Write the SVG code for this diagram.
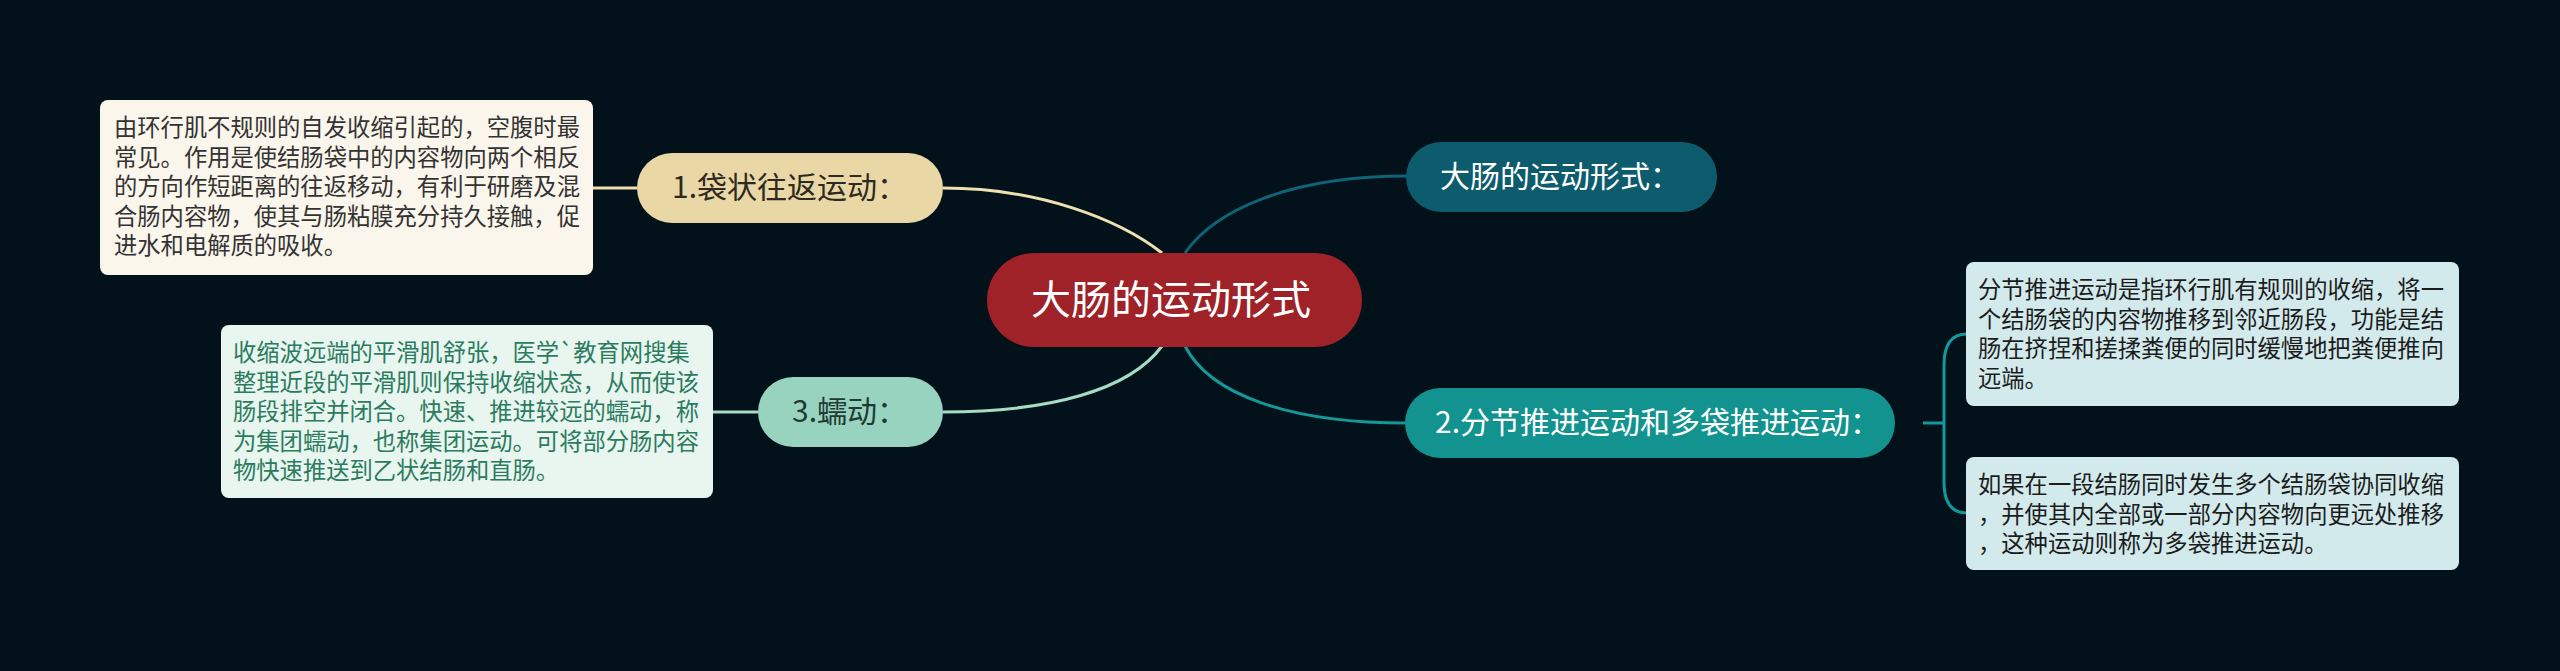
<svg xmlns="http://www.w3.org/2000/svg" width="2560" height="671" viewBox="0 0 2560 671">
<style>
text{font-family:"Noto Sans CJK SC","Noto Sans",sans-serif;}
.leaf{font-size:23.3px;}
.lvl1{font-size:30px;}
.conn{fill:none;stroke-width:3;}
</style>
<rect x="0" y="0" width="2560" height="671" fill="#03111a"/>
<g id="connectors">
<path class="conn" stroke="#efe0b0" d="M943,188 C1040,188 1120,220 1162,253"/>
<path class="conn" stroke="#0f6376" d="M1185,253 C1215,210 1290,176 1407,176"/>
<path class="conn" stroke="#a5dcc6" d="M1162,346 C1130,390 1050,412 943,412"/>
<path class="conn" stroke="#13999a" d="M1185,346 C1210,395 1290,423 1406,423"/>
<path class="conn" stroke="#efe0b0" d="M593,188 L637,188"/>
<path class="conn" stroke="#a5dcc6" d="M713,412 L758,412"/>
<path class="conn" stroke="#13999a" d="M1923,423 L1944,423 M1967,334 Q1944,334 1944,365 L1944,482 Q1944,513 1967,513"/>
</g>
<g id="center">
<rect x="987" y="253" width="375" height="94" rx="47" fill="#9e2228"/>
<text x="1031" y="314" font-size="40" fill="#ffffff">大肠的运动形式</text>
</g>
<g id="node-top">
<rect x="1406" y="142" width="311" height="70" rx="35" fill="#0d5c6e"/>
<text class="lvl1" x="1440" y="187" fill="#ffffff">大肠的运动形式：</text>
</g>
<g id="node-1">
<rect x="637" y="153" width="306" height="70" rx="35" fill="#e9d7a5"/>
<text class="lvl1" x="672" y="198" fill="#2d2a22">1.袋状往返运动：</text>
</g>
<g id="node-2">
<rect x="1405" y="388" width="490" height="70" rx="35" fill="#13938f"/>
<text class="lvl1" x="1435" y="433" fill="#ffffff">2.分节推进运动和多袋推进运动：</text>
</g>
<g id="node-3">
<rect x="758" y="377" width="185" height="70" rx="35" fill="#97d3bf"/>
<text class="lvl1" x="792" y="422" fill="#1f3a32">3.蠕动：</text>
</g>
<g id="leaf-1">
<rect x="100" y="100" width="493" height="175" rx="8" fill="#fbf6ec"/>
<text class="leaf" fill="#333333"><tspan x="114" y="136">由环行肌不规则的自发收缩引起的，空腹时最</tspan><tspan x="114" y="165.5">常见。作用是使结肠袋中的内容物向两个相反</tspan><tspan x="114" y="195">的方向作短距离的往返移动，有利于研磨及混</tspan><tspan x="114" y="224.5">合肠内容物，使其与肠粘膜充分持久接触，促</tspan><tspan x="114" y="254">进水和电解质的吸收。</tspan></text>
</g>
<g id="leaf-3">
<rect x="221" y="325" width="492" height="173" rx="8" fill="#e9f5ef"/>
<text class="leaf" fill="#2b7c5f"><tspan x="233" y="361">收缩波远端的平滑肌舒张，医学`教育网搜集</tspan><tspan x="233" y="390.5">整理近段的平滑肌则保持收缩状态，从而使该</tspan><tspan x="233" y="420">肠段排空并闭合。快速、推进较远的蠕动，称</tspan><tspan x="233" y="449.5">为集团蠕动，也称集团运动。可将部分肠内容</tspan><tspan x="233" y="479">物快速推送到乙状结肠和直肠。</tspan></text>
</g>
<g id="leaf-2a">
<rect x="1966" y="262" width="493" height="144" rx="8" fill="#d3eaec"/>
<text class="leaf" fill="#1c1c1c"><tspan x="1978" y="298">分节推进运动是指环行肌有规则的收缩，将一</tspan><tspan x="1978" y="327.5">个结肠袋的内容物推移到邻近肠段，功能是结</tspan><tspan x="1978" y="357">肠在挤捏和搓揉粪便的同时缓慢地把粪便推向</tspan><tspan x="1978" y="386.5">远端。</tspan></text>
</g>
<g id="leaf-2b">
<rect x="1966" y="457" width="493" height="113" rx="8" fill="#d3eaec"/>
<text class="leaf" fill="#1c1c1c"><tspan x="1978" y="493">如果在一段结肠同时发生多个结肠袋协同收缩</tspan><tspan x="1978" y="522.5">，并使其内全部或一部分内容物向更远处推移</tspan><tspan x="1978" y="552">，这种运动则称为多袋推进运动。</tspan></text>
</g>
</svg>
